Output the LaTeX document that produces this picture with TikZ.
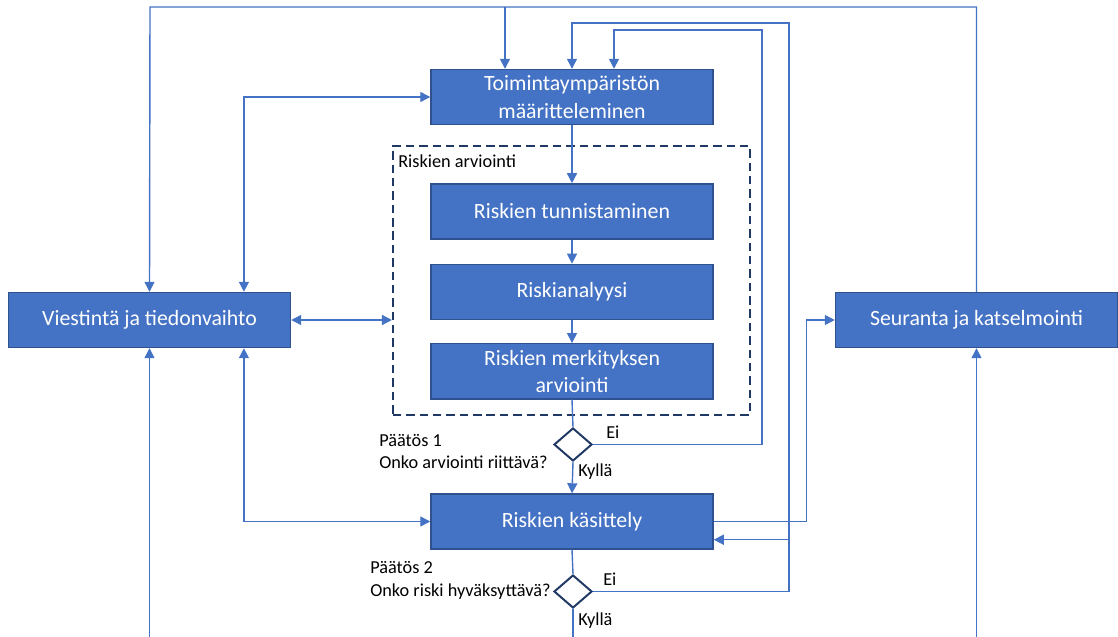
\documentclass[tikz,border=0pt]{standalone}
\usepackage{fontspec}
\setmainfont{Carlito}
\usetikzlibrary{arrows.meta,positioning,shapes.geometric}
\definecolor{boxblue}{HTML}{4472C4}
\definecolor{boxline}{HTML}{2F528F}
\definecolor{wireblue}{HTML}{4472C4}
\definecolor{navy}{HTML}{203864}

\begin{document}
\begin{tikzpicture}[x=0.025cm, y=-0.025cm,
	box/.style={draw=boxline, line width=1pt, fill=boxblue, text=white, minimum width=7.05cm, minimum height=1.375cm, align=center, inner sep=2pt, font=\fontsize{15.5}{19.5}\selectfont},
	lbl/.style={inner sep=0pt, align=left, font=\fontsize{13}{16.3}\selectfont},
	wire/.style={draw=wireblue, line width=1pt},
	conn/.style={wire, -{Triangle[length=0.25cm,width=0.25cm]}},
	biconn/.style={wire, {Triangle[length=0.25cm,width=0.25cm]}-{Triangle[length=0.25cm,width=0.25cm]}},
	dec/.style={diamond, draw=navy, line width=1.4pt, fill=white, minimum width=0.95cm, minimum height=0.825cm, inner sep=0pt}]
			\useasboundingbox (0,0) rectangle (1118,637);
			
			\node[draw=navy, line width=1.4pt, dash pattern=on 6pt off 3.5pt, minimum width=8.925cm, minimum height=6.725cm] (arv) at (571.5,280.5) {};
			\node[lbl, anchor=west] (arvt) at (398,161) {Riskien arviointi};
			
			\node[box] (toim) at (572,97) {Toimintaympäristön\\määritteleminen};
			\node[box, below=1.45cm of toim] (tunn) {Riskien tunnistaminen};
			\node[box, below=0.6cm of tunn] (anal) {Riskianalyysi};
			\node[box, below=0.575cm of anal] (merk) {Riskien merkityksen\\arviointi};
			\node[dec] (d1) at (573,444.5) {};
			\node[box] (kas) at (572,521.5) {Riskien käsittely};
			\node[dec] (d2) at (573,591.5) {};
			\node[box] (vies) at (149.5,320) {Viestintä ja tiedonvaihto};
			\node[box] (seur) at (976.5,320) {Seuranta ja katselmointi};
			
			\node[lbl, anchor=west] (p1) at (379,451.5) {Päätös 1\\Onko arviointi riittävä?};
			\node[lbl, anchor=west] (ei1) at (606,432) {Ei};
			\node[lbl, anchor=west] (ky1) at (578,472) {Kyllä};
			\node[lbl, anchor=west] (p2) at (370,580.5) {Päätös 2\\Onko riski hyväksyttävä?};
			\node[lbl, anchor=west] (ei2) at (603,579) {Ei};
			\node[lbl, anchor=west] (ky2) at (578,621) {Kyllä};
			
			\coordinate (ctop) at (150,7);
			\coordinate (e1) at (762,30);
			\coordinate (e2) at (789,23);
			\coordinate (bot) at (0,637);
			\coordinate (k2) at ([yshift=0.25cm]kas.south east);
			
			\draw[conn] (toim.south) -- (tunn.north);
			\draw[conn] (tunn.south) -- (anal.north);
			\draw[conn] (anal.south) -- (merk.north);
			\draw[wire] (merk.south) -- (d1.north);
			\draw[conn] (d1.south) -- (kas.north);
			\draw[wire] (kas.south) -- (d2.north);
			\draw[wire] (d2.south) -- (d2.south |- bot);
			
			\draw[conn] (d1.east) -| (e1) -| ([xshift=1.05cm]toim.north);
			\draw[conn] (d2.east) -| (e2) -| (toim.north);
			\draw[conn] (e2 |- k2) -- (k2);
			\draw[conn] (kas.east) -| ([xshift=-0.7cm]seur.west) -- (seur.west);
			
			\draw[conn] (seur.north) |- (ctop) -- (vies.north);
			\draw[conn] ([xshift=-1.675cm]toim.north |- ctop) -- ([xshift=-1.675cm]toim.north);
			\draw[biconn] ([xshift=2.36cm]vies.north) |- (toim.west);
			\draw[biconn] ([xshift=2.36cm]vies.south) |- (kas.west);
			\draw[biconn] (vies.east) -- (vies.east -| arv.west);
			\draw[conn] (vies.south |- bot) -- (vies.south);
			\draw[conn] (seur.south |- bot) -- (seur.south);
		\end{tikzpicture}
\end{document}
